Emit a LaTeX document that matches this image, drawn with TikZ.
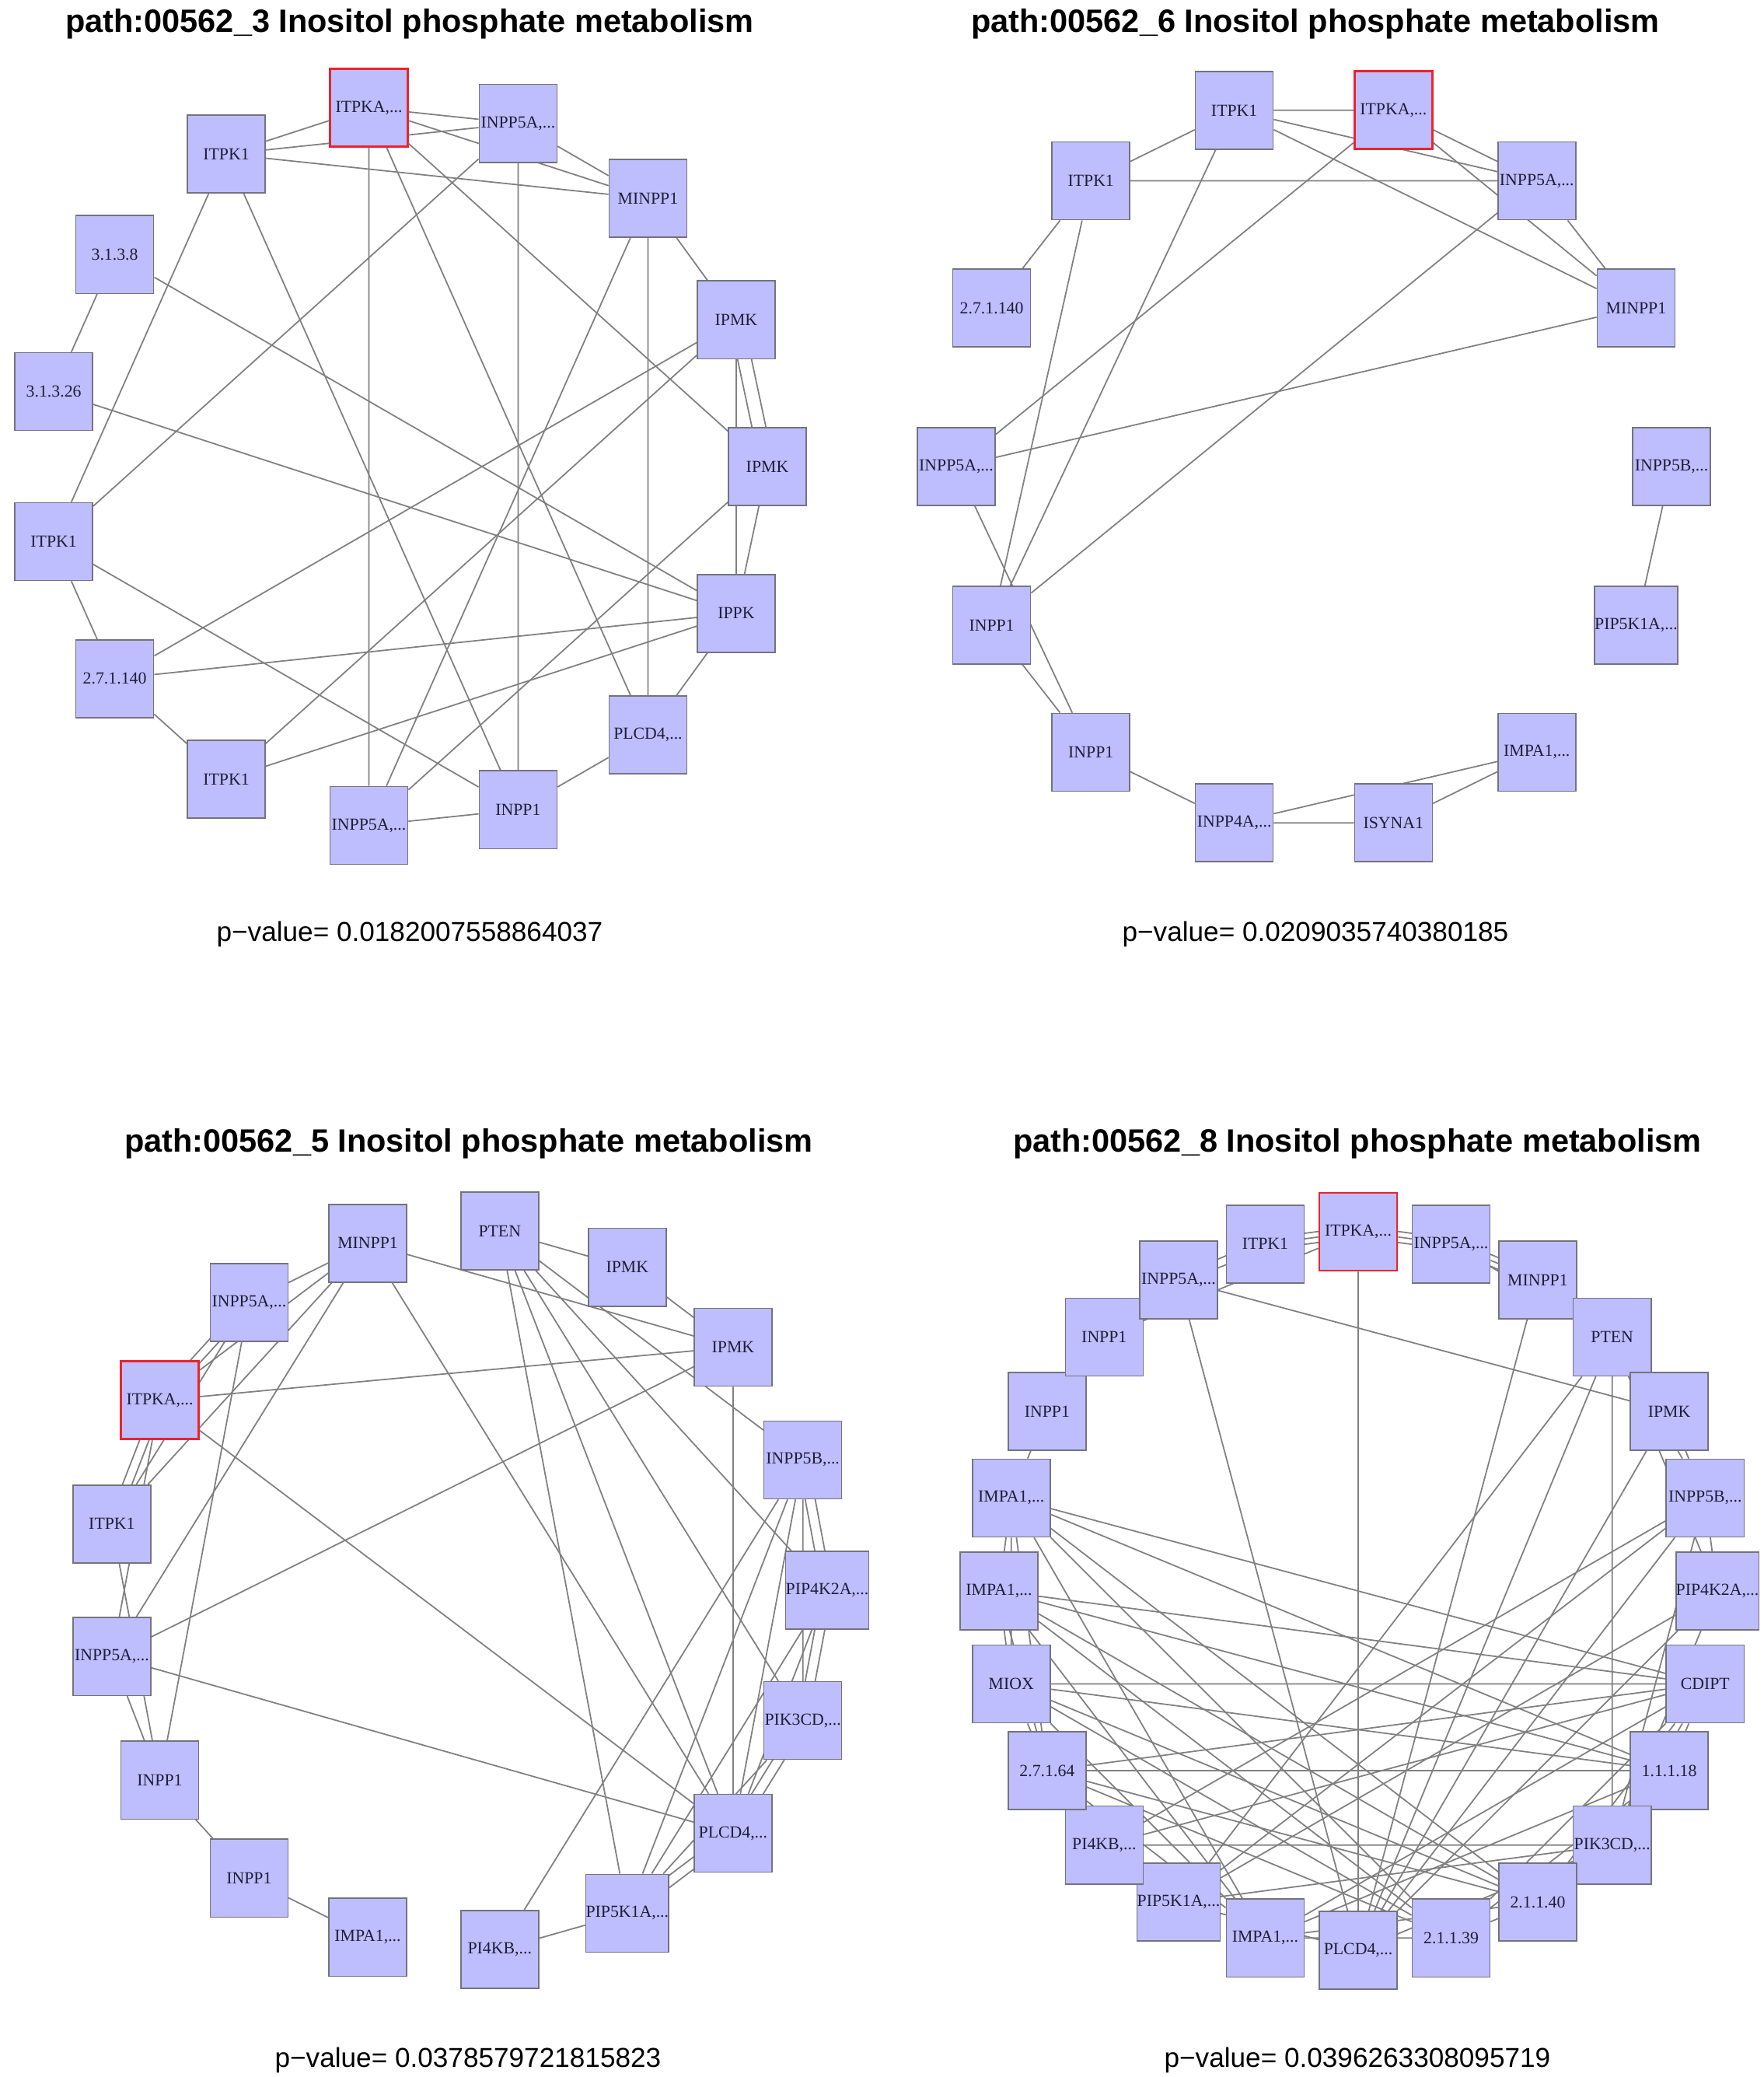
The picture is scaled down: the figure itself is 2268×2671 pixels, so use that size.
\documentclass[tikz,border=0pt]{standalone}
\usepackage{fontspec}
\setmainfont{Liberation Serif}
\setsansfont{Liberation Sans}
\usetikzlibrary{calc,backgrounds}

\definecolor{genefill}{RGB}{190,190,255}
\definecolor{geneline}{RGB}{115,115,125}
\definecolor{edgegray}{RGB}{128,128,128}
\definecolor{hitred}{RGB}{235,35,45}
\definecolor{genetext}{RGB}{30,30,55}

\tikzset{
  gene/.style={draw=geneline, fill=genefill, line width=0.45pt,
    minimum width=1cm, minimum height=1cm, inner sep=0pt,
    font=\fontsize{6.2}{7}\selectfont, text=genetext},
  seed/.style={gene, draw=hitred, line width=0.8pt},
  edge/.style={draw=edgegray, line width=0.5pt},
  paneltitle/.style={font=\sffamily\bfseries\fontsize{11.8}{14}\selectfont},
  pval/.style={font=\sffamily\fontsize{10}{12}\selectfont},
}
% two or more edges between the same pair of genes
\newcommand\twin[3]{\draw[edge] ($(#1)!#3!90:(#2)$) -- ($(#2)!#3!-90:(#1)$);}

\begin{document}
\begin{tikzpicture}[x=0.01cm, y=0.01cm]
    \useasboundingbox (0,0) rectangle (2268,-2671);

    % Titles
    \node[paneltitle] (t1) at (527,-31) {path:00562\_3 Inositol phosphate metabolism};
    \node[paneltitle] (t2) at (1692,-31) {path:00562\_6 Inositol phosphate metabolism};
    \node[paneltitle] (t3) at (603,-1471) {path:00562\_5 Inositol phosphate metabolism};
    \node[paneltitle] (t4) at (1746,-1471) {path:00562\_8 Inositol phosphate metabolism};

    \node[pval] (p1) at (527,-1201) {p\textminus value= 0.0182007558864037};
    \node[pval] (p2) at (1692,-1201) {p\textminus value= 0.0209035740380185};
    \node[pval] (p3) at (602,-2649) {p\textminus value= 0.0378579721815823};
    \node[pval] (p4) at (1746,-2649) {p\textminus value= 0.0396263308095719};

    % Panel 3
    \begin{scope}[shift={(523,-600)}]
        \node[seed] (a-ITPKA) at (96:464) {ITPKA,...};
        \node[gene] (a-INPP5A) at (72:464) {INPP5A,...};
        \node[gene] (a-MINPP1) at (48:464) {MINPP1};
        \node[gene] (a-IPMK1) at (24:464) {IPMK};
        \node[gene] (a-IPMK2) at (0:464) {IPMK};
        \node[gene] (a-IPPK) at (-24:464) {IPPK};
        \node[gene] (a-PLCD4) at (-48:464) {PLCD4,...};
        \node[gene] (a-INPP1) at (-72:464) {INPP1};
        \node[gene] (a-INPP5Ab) at (-96:464) {INPP5A,...};
        \node[gene] (a-ITPK1c) at (-120:464) {ITPK1};
        \node[gene] (a-27140) at (-144:464) {2.7.1.140};
        \node[gene] (a-ITPK1b) at (-168:464) {ITPK1};
        \node[gene] (a-31326) at (168:464) {3.1.3.26};
        \node[gene] (a-3138) at (144:464) {3.1.3.8};
        \node[gene] (a-ITPK1a) at (120:464) {ITPK1};
    \end{scope}

    % Panel 6
    \begin{scope}[shift={(1690,-600)}]
        \node[gene] (b-ITPK1a) at (102.857:460 and 470) {ITPK1};
        \node[seed] (b-ITPKA) at (77.143:460 and 470) {ITPKA,...};
        \node[gene] (b-INPP5A) at (51.429:460 and 470) {INPP5A,...};
        \node[gene] (b-MINPP1) at (25.714:460 and 470) {MINPP1};
        \node[gene] (b-INPP5B) at (0:460 and 470) {INPP5B,...};
        \node[gene] (b-PIP5K1A) at (-25.714:460 and 470) {PIP5K1A,...};
        \node[gene] (b-IMPA1) at (-51.429:460 and 470) {IMPA1,...};
        \node[gene] (b-ISYNA1) at (-77.143:460 and 470) {ISYNA1};
        \node[gene] (b-INPP4A) at (-102.857:460 and 470) {INPP4A,...};
        \node[gene] (b-INPP1b) at (-128.571:460 and 470) {INPP1};
        \node[gene] (b-INPP1a) at (-154.286:460 and 470) {INPP1};
        \node[gene] (b-INPP5Al) at (180:460 and 470) {INPP5A,...};
        \node[gene] (b-27140) at (154.286:460 and 470) {2.7.1.140};
        \node[gene] (b-ITPK1b) at (128.571:460 and 470) {ITPK1};
    \end{scope}

    % Panel 5
    \begin{scope}[shift={(600,-2045)}]
        \node[gene] (c-PTEN) at (84.706:464) {PTEN};
        \node[gene] (c-IPMKa) at (63.529:464) {IPMK};
        \node[gene] (c-IPMKb) at (42.353:464) {IPMK};
        \node[gene] (c-INPP5B) at (21.176:464) {INPP5B,...};
        \node[gene] (c-PIP4K2A) at (0:464) {PIP4K2A,...};
        \node[gene] (c-PIK3CD) at (-21.176:464) {PIK3CD,...};
        \node[gene] (c-PLCD4) at (-42.353:464) {PLCD4,...};
        \node[gene] (c-PIP5K1A) at (-63.529:464) {PIP5K1A,...};
        \node[gene] (c-PI4KB) at (-84.706:464) {PI4KB,...};
        \node[gene] (c-IMPA1) at (-105.882:464) {IMPA1,...};
        \node[gene] (c-INPP1b) at (-127.059:464) {INPP1};
        \node[gene] (c-INPP1a) at (-148.235:464) {INPP1};
        \node[gene] (c-INPP5Al) at (-169.412:464) {INPP5A,...};
        \node[gene] (c-ITPK1) at (169.412:464) {ITPK1};
        \node[seed] (c-ITPKA) at (148.235:464) {ITPKA,...};
        \node[gene] (c-INPP5A) at (127.059:464) {INPP5A,...};
        \node[gene] (c-MINPP1) at (105.882:464) {MINPP1};
    \end{scope}

    % Panel 8
    \begin{scope}[shift={(1747,-2046)}]
        \node[seed] (d-ITPKA) at (90:462) {ITPKA,...};
        \node[gene] (d-INPP5Ar) at (75:462) {INPP5A,...};
        \node[gene] (d-MINPP1) at (60:462) {MINPP1};
        \node[gene] (d-PTEN) at (45:462) {PTEN};
        \node[gene] (d-IPMK) at (30:462) {IPMK};
        \node[gene] (d-INPP5B) at (15:462) {INPP5B,...};
        \node[gene] (d-PIP4K2A) at (0:462) {PIP4K2A,...};
        \node[gene] (d-CDIPT) at (-15:462) {CDIPT};
        \node[gene] (d-11118) at (-30:462) {1.1.1.18};
        \node[gene] (d-PIK3CD) at (-45:462) {PIK3CD,...};
        \node[gene] (d-21140) at (-60:462) {2.1.1.40};
        \node[gene] (d-21139) at (-75:462) {2.1.1.39};
        \node[gene] (d-PLCD4) at (-90:462) {PLCD4,...};
        \node[gene] (d-IMPA1a) at (-105:462) {IMPA1,...};
        \node[gene] (d-PIP5K1A) at (-120:462) {PIP5K1A,...};
        \node[gene] (d-PI4KB) at (-135:462) {PI4KB,...};
        \node[gene] (d-27164) at (-150:462) {2.7.1.64};
        \node[gene] (d-MIOX) at (-165:462) {MIOX};
        \node[gene] (d-IMPA1b) at (180:462) {IMPA1,...};
        \node[gene] (d-IMPA1c) at (165:462) {IMPA1,...};
        \node[gene] (d-INPP1a) at (150:462) {INPP1};
        \node[gene] (d-INPP1b) at (135:462) {INPP1};
        \node[gene] (d-INPP5Al) at (120:462) {INPP5A,...};
        \node[gene] (d-ITPK1) at (105:462) {ITPK1};
    \end{scope}

    \begin{scope}[on background layer]
        \fill[white] (0,0) rectangle (2268,-2671);

        % Panel 3 edges
        \draw[edge] (a-ITPK1a) -- (a-ITPKA) (a-ITPK1a) -- (a-INPP5A)
            (a-ITPK1a) -- (a-MINPP1) (a-ITPK1a) -- (a-INPP1) (a-ITPK1a) -- (a-ITPK1b);
        \draw[edge] (a-ITPKA) -- (a-INPP5A) (a-ITPKA) -- (a-MINPP1) (a-ITPKA) -- (a-INPP5Ab)
            (a-ITPKA) -- (a-PLCD4) (a-ITPKA) -- (a-IPMK2);
        \draw[edge] (a-INPP5A) -- (a-MINPP1) (a-INPP5A) -- (a-ITPK1b) (a-INPP5A) -- (a-INPP1);
        \draw[edge] (a-MINPP1) -- (a-INPP5Ab) (a-MINPP1) -- (a-PLCD4) (a-MINPP1) -- (a-IPMK1);
        \draw[edge] (a-IPMK1) -- (a-27140) (a-IPMK1) -- (a-ITPK1c) (a-IPMK1) -- (a-IPPK);
        \twin{a-IPMK1}{a-IPMK2}{2.5pt}
        \twin{a-IPMK1}{a-IPMK2}{-2.5pt}
        \draw[edge] (a-IPMK2) -- (a-IPPK) (a-IPMK2) -- (a-INPP5Ab);
        \draw[edge] (a-3138) -- (a-31326) (a-3138) -- (a-IPPK) (a-31326) -- (a-IPPK);
        \draw[edge] (a-ITPK1b) -- (a-27140) (a-ITPK1b) -- (a-INPP1);
        \draw[edge] (a-27140) -- (a-IPPK) (a-27140) -- (a-ITPK1c) (a-ITPK1c) -- (a-IPPK);
        \draw[edge] (a-INPP5Ab) -- (a-INPP1) (a-INPP1) -- (a-PLCD4) (a-PLCD4) -- (a-IPPK);

        % Panel 6 edges
        \draw[edge] (b-ITPK1a) -- (b-ITPKA) (b-ITPK1a) -- (b-ITPK1b) (b-ITPK1a) -- (b-INPP5A)
            (b-ITPK1a) -- (b-MINPP1) (b-ITPK1a) -- (b-INPP1a);
        \draw[edge] (b-ITPKA) -- (b-INPP5A) (b-ITPKA) -- (b-MINPP1) (b-ITPKA) -- (b-INPP5Al);
        \draw[edge] (b-INPP5A) -- (b-MINPP1) (b-INPP5A) -- (b-ITPK1b) (b-INPP5A) -- (b-INPP1a);
        \draw[edge] (b-ITPK1b) -- (b-27140) (b-ITPK1b) -- (b-INPP1a);
        \draw[edge] (b-MINPP1) -- (b-INPP5Al) (b-INPP5Al) -- (b-INPP1b) (b-INPP1a) -- (b-INPP1b);
        \draw[edge] (b-INPP1b) -- (b-INPP4A) (b-INPP4A) -- (b-ISYNA1) (b-INPP4A) -- (b-IMPA1)
            (b-ISYNA1) -- (b-IMPA1) (b-INPP5B) -- (b-PIP5K1A);

        % Panel 5 edges
        \draw[edge] (c-INPP5A) -- (c-MINPP1) (c-ITPKA) -- (c-MINPP1) (c-ITPK1) -- (c-MINPP1);
        \twin{c-ITPKA}{c-INPP5A}{1.6pt}
        \twin{c-ITPKA}{c-INPP5A}{-1.6pt}
        \twin{c-ITPK1}{c-ITPKA}{1.6pt}
        \twin{c-ITPK1}{c-ITPKA}{-1.6pt}
        \draw[edge] (c-ITPK1) -- (c-INPP5A) (c-ITPKA) -- (c-INPP5Al) (c-ITPK1) -- (c-INPP1a)
            (c-INPP5A) -- (c-INPP1a) (c-MINPP1) -- (c-INPP5Al);
        \draw[edge] (c-ITPKA) -- (c-IPMKb) (c-ITPKA) -- (c-PLCD4) (c-MINPP1) -- (c-PLCD4)
            (c-MINPP1) -- (c-IPMKb) (c-INPP5Al) -- (c-IPMKb) (c-INPP5Al) -- (c-PLCD4);
        \draw[edge] (c-INPP5Al) -- (c-INPP1a) (c-INPP1a) -- (c-INPP1b) (c-INPP1b) -- (c-IMPA1);
        \draw[edge] (c-PTEN) -- (c-IPMKa) (c-PTEN) -- (c-INPP5B) (c-PTEN) -- (c-PIP4K2A)
            (c-PTEN) -- (c-PIK3CD) (c-PTEN) -- (c-PLCD4) (c-PTEN) -- (c-PIP5K1A);
        \draw[edge] (c-IPMKa) -- (c-IPMKb) (c-IPMKb) -- (c-PLCD4);
        \twin{c-INPP5B}{c-PIP4K2A}{1.8pt}
        \twin{c-INPP5B}{c-PIP4K2A}{-1.8pt}
        \draw[edge] (c-INPP5B) -- (c-PIK3CD) (c-INPP5B) -- (c-PLCD4) (c-INPP5B) -- (c-PIP5K1A)
            (c-INPP5B) -- (c-PI4KB);
        \twin{c-PIP4K2A}{c-PIK3CD}{1.8pt}
        \twin{c-PIP4K2A}{c-PIK3CD}{-1.8pt}
        \draw[edge] (c-PIP4K2A) -- (c-PLCD4) (c-PIP4K2A) -- (c-PIP5K1A) (c-PIK3CD) -- (c-PIP5K1A);
        \twin{c-PIK3CD}{c-PLCD4}{1.8pt}
        \twin{c-PIK3CD}{c-PLCD4}{-1.8pt}
        \twin{c-PLCD4}{c-PIP5K1A}{1.8pt}
        \twin{c-PLCD4}{c-PIP5K1A}{-1.8pt}
        \draw[edge] (c-PIP5K1A) -- (c-PI4KB);

        % Panel 8 edges
        \twin{d-ITPK1}{d-ITPKA}{2pt}
        \draw[edge] (d-ITPK1) -- (d-ITPKA);
        \twin{d-ITPK1}{d-ITPKA}{-2pt}
        \twin{d-ITPK1}{d-INPP5Al}{1.5pt}
        \twin{d-ITPK1}{d-INPP5Al}{-1.5pt}
        \twin{d-ITPKA}{d-INPP5Ar}{2pt}
        \draw[edge] (d-ITPKA) -- (d-INPP5Ar);
        \twin{d-ITPKA}{d-INPP5Ar}{-2pt}
        \twin{d-INPP5Ar}{d-MINPP1}{2pt}
        \draw[edge] (d-INPP5Ar) -- (d-MINPP1);
        \twin{d-INPP5Ar}{d-MINPP1}{-2pt}
        \draw[edge] (d-ITPKA) -- (d-PLCD4) (d-ITPKA) -- (d-INPP1b) (d-INPP5Al) -- (d-IPMK)
            (d-INPP5Al) -- (d-PLCD4) (d-MINPP1) -- (d-PLCD4) (d-INPP5Ar) -- (d-PTEN)
            (d-IPMK) -- (d-PLCD4) (d-PTEN) -- (d-IPMK) (d-IPMK) -- (d-INPP5B)
            (d-INPP1a) -- (d-IMPA1c);
        % phosphoinositides
        \draw[edge] (d-PTEN) -- (d-INPP5B) (d-PTEN) -- (d-PIP4K2A) (d-PTEN) -- (d-PIK3CD)
            (d-PTEN) -- (d-PLCD4) (d-PTEN) -- (d-PIP5K1A);
        \draw[edge] (d-INPP5B) -- (d-PIP4K2A) (d-INPP5B) -- (d-PIK3CD) (d-INPP5B) -- (d-PLCD4)
            (d-INPP5B) -- (d-PIP5K1A) (d-INPP5B) -- (d-PI4KB);
        \draw[edge] (d-PIP4K2A) -- (d-PIK3CD) (d-PIP4K2A) -- (d-PLCD4) (d-PIP4K2A) -- (d-PIP5K1A)
            (d-PIK3CD) -- (d-PLCD4) (d-PIK3CD) -- (d-PIP5K1A) (d-PLCD4) -- (d-PIP5K1A)
            (d-PIP5K1A) -- (d-PI4KB);
        \draw[edge] (d-CDIPT) -- (d-PI4KB) (d-CDIPT) -- (d-PIK3CD) (d-PI4KB) -- (d-PIK3CD);
        % inositol
        \draw[edge] (d-IMPA1c) -- (d-IMPA1b) (d-IMPA1c) -- (d-MIOX) (d-IMPA1c) -- (d-27164)
            (d-IMPA1c) -- (d-IMPA1a) (d-IMPA1c) -- (d-CDIPT) (d-IMPA1c) -- (d-11118)
            (d-IMPA1c) -- (d-21140) (d-IMPA1c) -- (d-21139);
        \draw[edge] (d-IMPA1b) -- (d-MIOX) (d-IMPA1b) -- (d-27164) (d-IMPA1b) -- (d-IMPA1a)
            (d-IMPA1b) -- (d-CDIPT) (d-IMPA1b) -- (d-11118) (d-IMPA1b) -- (d-21140)
            (d-IMPA1b) -- (d-21139);
        \draw[edge] (d-MIOX) -- (d-27164) (d-MIOX) -- (d-IMPA1a) (d-MIOX) -- (d-CDIPT)
            (d-MIOX) -- (d-11118) (d-MIOX) -- (d-21140) (d-MIOX) -- (d-21139);
        \draw[edge] (d-27164) -- (d-IMPA1a) (d-27164) -- (d-CDIPT) (d-27164) -- (d-11118)
            (d-27164) -- (d-21140) (d-27164) -- (d-21139);
        \draw[edge] (d-IMPA1a) -- (d-CDIPT) (d-IMPA1a) -- (d-11118) (d-IMPA1a) -- (d-21140)
            (d-IMPA1a) -- (d-21139);
        \draw[edge] (d-CDIPT) -- (d-11118) (d-CDIPT) -- (d-21140) (d-CDIPT) -- (d-21139)
            (d-11118) -- (d-21140) (d-11118) -- (d-21139) (d-21140) -- (d-21139);
    \end{scope}
\end{tikzpicture}
\end{document}
